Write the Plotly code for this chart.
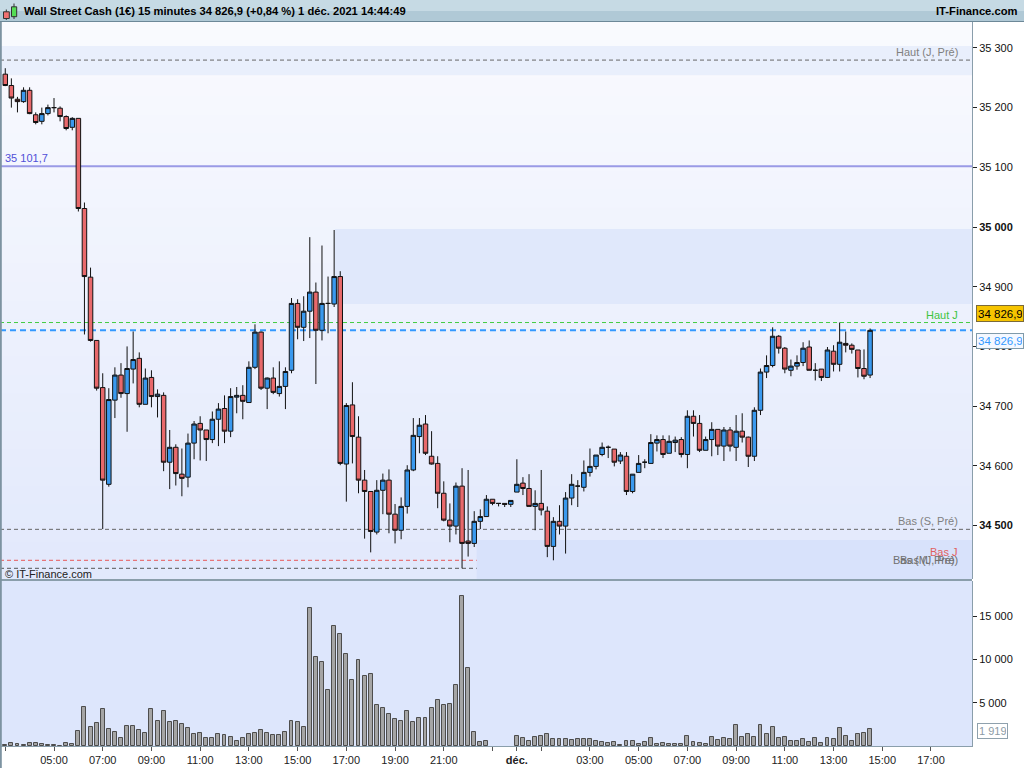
import numpy as np
import pandas as pd
import plotly.graph_objects as go

# Wall Street Cash, 15 min candles, 30 nov 03:00 -> 1 dec 14:30
start = '2021-11-30 03:00'

open_ = [35256, 35237, 35214, 35210, 35229, 35188, 35177, 35190, 35200, 35199,
         35185, 35167, 35182, 35031, 34916, 34810, 34731, 34569, 34710, 34752,
         34721, 34762, 34780, 34703, 34748, 34716, 34718, 34606, 34631, 34586,
         34581, 34638, 34671, 34660, 34644, 34678, 34696, 34658, 34715, 34718,
         34706, 34765, 34824, 34730, 34747, 34721, 34733, 34760, 34872, 34832,
         34859, 34891, 34827, 34872, 34871, 34917, 34603, 34702, 34648, 34576,
         34557, 34489, 34559, 34576, 34519, 34492, 34532, 34593, 34649, 34670,
         34616, 34604, 34554, 34509, 34499, 34566, 34474, 34470, 34507, 34515,
         34544, 34537, 34537, 34535.5, 34556, 34571, 34562, 34532, 34537, 34524,
         34465, 34507, 34499, 34546, 34566, 34564, 34589, 34599, 34619, 34631,
         34628, 34608, 34616, 34557, 34589, 34606, 34604, 34638, 34644, 34621,
         34639, 34644, 34619, 34683, 34671, 34626, 34644, 34661, 34633, 34660,
         34631, 34658, 34648, 34616, 34693, 34757, 34768, 34817, 34797, 34760,
         34767, 34773, 34799, 34760, 34762, 34748, 34792, 34770, 34805, 34802,
         34794, 34763, 34752]
high = [35266, 35249, 35218, 35234, 35234, 35192, 35200, 35205, 35216, 35202,
        35187, 35184, 35182, 35041, 34932, 34810, 34755, 34730, 34765, 34772,
        34800, 34825, 34790, 34763, 34760, 34728, 34723, 34660, 34636, 34629,
        34654, 34675, 34683, 34660, 34691, 34705, 34718, 34730, 34732, 34735,
        34775, 34837, 34825, 34748, 34765, 34775, 34765, 34881, 34879, 34884,
        34983, 34907, 34969, 34917, 34995, 34926, 34705, 34740, 34683, 34593,
        34557, 34576, 34587, 34594, 34536, 34547, 34601, 34680, 34680, 34685,
        34658, 34616, 34574, 34537, 34572, 34596, 34593, 34524, 34527, 34551,
        34544, 34537.5, 34537, 34542, 34611, 34581, 34586, 34559, 34593, 34532,
        34514, 34534, 34556, 34586, 34576, 34609, 34629, 34618, 34639, 34634,
        34628, 34623, 34623, 34586, 34618, 34611, 34653, 34651, 34651, 34651,
        34649, 34648, 34693, 34693, 34685, 34649, 34673, 34661, 34665, 34665,
        34685, 34688, 34649, 34698, 34763, 34785, 34832, 34819, 34799, 34778,
        34785, 34807, 34810, 34772, 34762, 34799, 34802, 34840, 34825, 34805,
        34794, 34795, 34830]
low = [35236, 35200, 35192, 35208, 35189, 35172, 35172, 35187, 35192, 35177,
       35162, 35162, 35026, 34820, 34808, 34726, 34494, 34565, 34680, 34714,
       34657, 34738, 34698, 34703, 34698, 34681, 34591, 34561, 34567, 34549,
       34564, 34611, 34609, 34608, 34638, 34633, 34638, 34648, 34688, 34678,
       34706, 34762, 34727, 34695, 34720, 34716, 34695, 34755, 34812, 34809,
       34814, 34737, 34810, 34822, 34866, 34601, 34540, 34604, 34554, 34478,
       34455, 34485, 34519, 34487, 34470, 34477, 34520, 34591, 34621, 34618,
       34602, 34529, 34507, 34472, 34485, 34428.3, 34448, 34464, 34494, 34515,
       34534, 34532, 34531, 34531, 34556, 34551, 34532, 34492, 34517, 34447,
       34441.7, 34485, 34453, 34534, 34531, 34557, 34582, 34594, 34616, 34613,
       34599, 34603, 34551, 34554, 34589, 34596, 34604, 34624, 34613, 34621,
       34623, 34614, 34596, 34649, 34623, 34626, 34616, 34618, 34608, 34624,
       34608, 34639, 34598, 34608, 34685, 34747, 34765, 34788, 34755, 34750,
       34761, 34767, 34760, 34743, 34742, 34747, 34758, 34758, 34790, 34788,
       34748, 34745, 34747]
close = [35237, 35216, 35210, 35229, 35190, 35175, 35190, 35200, 35200, 35185,
         35165, 35182, 35031, 34917, 34810, 34730, 34576, 34711, 34752, 34721,
         34763, 34778, 34703, 34747, 34716, 34720, 34606, 34631, 34587, 34579,
         34638, 34670, 34660, 34644, 34678, 34695, 34658, 34716, 34718, 34708,
         34765, 34824, 34730, 34747, 34723, 34733, 34758, 34872, 34832, 34859,
         34891, 34827, 34872, 34872, 34917, 34604, 34701, 34649, 34576, 34557,
         34490, 34559, 34576, 34519, 34492, 34532, 34593, 34651, 34668, 34621,
         34603, 34554, 34509, 34499, 34566, 34470, 34470, 34507, 34515, 34544,
         34537, 34537, 34535.5, 34542, 34569, 34562, 34532, 34537, 34526, 34465,
         34507, 34499, 34546, 34569, 34566, 34589, 34599, 34618, 34631, 34631,
         34606, 34618, 34557, 34586, 34604, 34606, 34639, 34644, 34619, 34641,
         34643, 34619, 34683, 34671, 34626, 34644, 34661, 34633, 34660, 34633,
         34658, 34648, 34616, 34693, 34757, 34768, 34817, 34797, 34762, 34767,
         34773, 34797, 34760, 34760, 34748, 34794, 34770, 34807, 34802, 34795,
         34763, 34750, 34826.9]
volume = [154, 384, 269, 154, 384, 384, 269, 154, 154, 38,
          384, 269, 1766, 4531, 2227, 2688, 4301, 1997, 1651, 960,
          2342, 2342, 1882, 1536, 4301, 2918, 4070, 2803, 2918, 2573,
          2112, 1421, 1536, 960, 960, 1421, 1306, 1075, 614, 960,
          1421, 1536, 1882, 1536, 1306, 1306, 1651, 2918, 2803, 2227,
          15936, 10291, 9715, 6490, 13862, 12941, 10637, 7642, 9946, 8102,
          8333, 4762, 4416, 3725, 3149, 2918, 4070, 2803, 3264, 3264,
          4416, 5338, 4762, 4877, 7066, 17318, 9024, 1651, 499, 614,
          None, None, None, None, 1190, 960, 614, 1075, 1190, 1421,
          845, 845, 845, 730, 845, 845, 845, 614, 499, 384,
          499, 154, 614, 614, 269, 499, 960, 269, 384, 269,
          269, 269, 1190, 499, 384, 269, 1075, 730, 960, 845,
          2458, 1075, 1421, 1075, 2458, 1421, 2227, 960, 1075, 614,
          614, 845, 499, 960, 384, 960, 845, 2112, 1190, 614,
          1421, 1536, 1919]

# key levels drawn across the chart
level_names = ['Haut (J, Pré)', '35 101,7', 'Haut J', 'Bas (S, Pré)', 'Bas J', 'Bas (J, Pré)']
level_values = [35279.6, 35101.7, 34840, 34493.6, 34441.7, 34428.3]
last_price = 34826.9
last_volume = 1919

# shaded zones
zone_top = [35254, 35303]
zone_mid = [34871, 34996.6]
zone_low_top = 34475.7

price_ticks = [34500, 34600, 34700, 34800, 34900, 35000, 35100, 35200, 35300]
price_ticktext = ['<b>34 500</b>', '34 600', '34 700', '34 800', '34 900',
                  '<b>35 000</b>', '35 100', '35 200', '35 300']
vol_ticks = [5000, 10000, 15000]
vol_ticktext = ['5 000', '10 000', '15 000']
x_tickvals = ['2021-11-30 03:00', '2021-11-30 05:00', '2021-11-30 07:00', '2021-11-30 09:00',
              '2021-11-30 11:00', '2021-11-30 13:00', '2021-11-30 15:00', '2021-11-30 17:00',
              '2021-11-30 19:00', '2021-11-30 21:00', '2021-11-30 23:00', '2021-12-01 00:00',
              '2021-12-01 01:00', '2021-12-01 03:00', '2021-12-01 05:00', '2021-12-01 07:00',
              '2021-12-01 09:00', '2021-12-01 11:00', '2021-12-01 13:00', '2021-12-01 15:00',
              '2021-12-01 17:00']
x_ticktext = ['', '05:00', '07:00', '09:00', '11:00', '13:00', '15:00', '17:00', '19:00',
              '21:00', '', '<b>déc.</b>', '', '03:00', '05:00', '07:00', '09:00', '11:00',
              '13:00', '15:00', '17:00']

times = pd.date_range(start, periods=len(open_), freq='15min')

x_range = ['2021-11-30 02:47', '2021-12-01 18:41']
price_range = [34410.4, 35343.4]
vol_range = [0, 19082]

FONT = 'Liberation Sans, Arial, sans-serif'


# pixel -> paper helpers (plot area is 972 x 724 px, top at 22)
def px(x):
    return x / 972


def py(y):
    return (746 - y) / 724


fig = go.Figure()

fig.add_trace(go.Candlestick(
    x=times, open=open_, high=high, low=low, close=close,
    increasing=dict(fillcolor='#3a99ee', line=dict(color='#111111', width=1)),
    decreasing=dict(fillcolor='#e8696b', line=dict(color='#111111', width=1)),
    whiskerwidth=0, showlegend=False, hoverinfo='skip'))

fig.add_trace(go.Bar(
    x=times, y=volume, yaxis='y2', width=580000,
    marker=dict(color='#a5a5a5', line=dict(color='#4d4d4d', width=1)),
    showlegend=False, hoverinfo='skip'))

shapes = []

# price pane background gradient
top = np.array([250, 251, 255])
bot = np.array([226, 233, 252])
n = 30
for k in range(n):
    c = top + (bot - top) * (k + 0.5) / n
    shapes.append(dict(type='rect', xref='x domain', yref='y domain', x0=0, x1=1,
                       y0=max(0, 1 - (k + 1) / n - 0.002), y1=1 - k / n,
                       fillcolor='rgb(%d,%d,%d)' % tuple(c), line_width=0, layer='below'))
# volume pane background
shapes.append(dict(type='rect', xref='x domain', yref='y2 domain', x0=0, x1=1, y0=0, y1=1,
                   fillcolor='#dde6fc', line_width=0, layer='below'))

# zones
shapes.append(dict(type='rect', xref='x domain', yref='y', x0=0, x1=1,
                   y0=zone_top[0], y1=zone_top[1], fillcolor='#e9effc', line_width=0, layer='below'))
shapes.append(dict(type='rect', xref='x', yref='y', x0='2021-11-30 16:32', x1=x_range[1],
                   y0=zone_mid[0], y1=zone_mid[1], fillcolor='#e0e8fb', line_width=0, layer='below'))
shapes.append(dict(type='rect', xref='x', yref='y', x0='2021-11-30 22:21', x1=x_range[1],
                   y0=price_range[0], y1=zone_low_top, fillcolor='#d8e2fb', line_width=0, layer='below'))

# level lines
level_styles = [('#666666', 1, '4px,3px'), ('#9a9ae6', 2, 'solid'), ('#44cc44', 1, '4px,3px'),
                ('#666666', 1, '4px,3px'), ('#e85858', 1, '4px,3px'), ('#555555', 1, '4px,3px')]
for v, (col, w, d) in zip(level_values, level_styles):
    shapes.append(dict(type='line', xref='x domain', yref='y', x0=0, x1=1, y0=v, y1=v,
                       line=dict(color=col, width=w, dash=d), layer='below'))
shapes.append(dict(type='line', xref='x domain', yref='y', x0=0, x1=1, y0=last_price, y1=last_price,
                   line=dict(color='#3399ff', width=2, dash='6px,4px'), layer='below'))

# pane separator, left border
shapes.append(dict(type='line', xref='paper', yref='paper', x0=0, x1=1, y0=py(580), y1=py(580),
                   line=dict(color='#8a9eab', width=2)))
shapes.append(dict(type='line', xref='paper', yref='paper', x0=px(0.8), x1=px(0.8), y0=py(768), y1=1,
                   line=dict(color='#7d93a1', width=2)))

# title bar
shapes.append(dict(type='rect', xref='paper', yref='paper', x0=0, x1=px(1024), y0=py(11), y1=py(0),
                   fillcolor='#c6dae4', line_width=0))
shapes.append(dict(type='rect', xref='paper', yref='paper', x0=0, x1=px(1024), y0=py(21), y1=py(11),
                   fillcolor='#b0c9d6', line_width=0))
shapes.append(dict(type='line', xref='paper', yref='paper', x0=0, x1=px(1024), y0=py(21.5), y1=py(21.5),
                   line=dict(color='#6d8898', width=1)))
# title icon
shapes.append(dict(type='line', xref='paper', yref='paper', x0=px(6.3), x1=px(6.3), y0=py(20), y1=py(9.5),
                   line=dict(color='#333333', width=1)))
shapes.append(dict(type='rect', xref='paper', yref='paper', x0=px(3.5), x1=px(9.3), y0=py(18.5), y1=py(11.8),
                   fillcolor='#f07070', line=dict(color='#333333', width=1)))
shapes.append(dict(type='line', xref='paper', yref='paper', x0=px(14), x1=px(14), y0=py(19), y1=py(3.5),
                   line=dict(color='#333333', width=1)))
shapes.append(dict(type='rect', xref='paper', yref='paper', x0=px(11.5), x1=px(16.7), y0=py(16.7), y1=py(6.8),
                   fillcolor='#55dd55', line=dict(color='#333333', width=1)))

annotations = [
    dict(xref='paper', yref='paper', x=px(22), y=py(11), xanchor='left', yanchor='middle', showarrow=False,
         text='<b>Wall Street Cash (1€) 15 minutes 34 826,9 (+0,84 %) 1 déc. 2021 14:44:49</b>',
         font=dict(family=FONT, size=11.2, color='#000000')),
    dict(xref='paper', yref='paper', x=px(1019), y=py(11), xanchor='right', yanchor='middle', showarrow=False,
         text='<b>IT-Finance.com</b>', font=dict(family=FONT, size=11.2, color='#000000')),
    dict(xref='paper', yref='paper', x=px(3), y=py(574), xanchor='left', yanchor='middle', showarrow=False,
         text='© IT-Finance.com', font=dict(family=FONT, size=11, color='#222222')),
]

label_colors = ['#808080', '#5050d8', '#3ec43e', '#808080', '#e06060', '#707070']
for name, v, col in zip(level_names, level_values, label_colors):
    left = name == '35 101,7'
    annotations.append(dict(xref='x domain', yref='y', x=0.003 if left else 0.988, y=v,
                            xanchor='left' if left else 'right', yanchor='bottom', yshift=0,
                            showarrow=False, text=name, font=dict(family=FONT, size=11, color=col)))
annotations.append(dict(xref='x domain', yref='y', x=0.985, y=level_values[-1], xanchor='right',
                        yanchor='bottom', showarrow=False, text='Bas (M, Pré)',
                        font=dict(family=FONT, size=11, color='#707070')))

# right-side value boxes
price_txt = '{:,.1f}'.format(last_price).replace(',', ' ').replace('.', ',')
annotations.append(dict(xref='paper', yref='paper', x=px(975.5), y=py(313.7), xanchor='left', yanchor='middle',
                        showarrow=False, text=price_txt, width=44, height=13, align='left',
                        bgcolor='#f6c400', bordercolor='#7a6a3a', borderwidth=1, borderpad=1,
                        font=dict(family=FONT, size=11.5, color='#000000')))
annotations.append(dict(xref='paper', yref='paper', x=px(975.5), y=py(340.5), xanchor='left', yanchor='middle',
                        showarrow=False, text=price_txt, width=44, height=12, align='left',
                        bgcolor='#f4f8ff', bordercolor='#7f9aaa', borderwidth=1, borderpad=1,
                        font=dict(family=FONT, size=11.5, color='#3399ff')))
annotations.append(dict(xref='paper', yref='paper', x=px(977), y=py(730.5), xanchor='left', yanchor='middle',
                        showarrow=False, text='{:,}'.format(last_volume).replace(',', ' '),
                        width=27, height=12, align='left',
                        bgcolor='#ffffff', bordercolor='#8fa1ad', borderwidth=1, borderpad=1,
                        font=dict(family=FONT, size=11, color='#8c9ba6')))

fig.update_layout(
    width=1024, height=768, autosize=False,
    margin=dict(l=0, r=52, t=22, b=22),
    paper_bgcolor='#ffffff', plot_bgcolor='rgba(0,0,0,0)',
    font=dict(family=FONT, size=11, color='#222222'),
    showlegend=False, bargap=0,
    # wider candle bodies (about 0.74 of the 15 min step)
    boxgap=0.1, boxgroupgap=0.18,
    xaxis=dict(domain=[0, 1], anchor='y2', range=x_range, type='date',
               tickvals=x_tickvals, ticktext=x_ticktext, ticks='outside', ticklen=4,
               tickcolor='#555555', showgrid=False, zeroline=False, showline=True,
               linecolor='#8a9eab', linewidth=1, rangeslider=dict(visible=False),
               tickfont=dict(family=FONT, size=11, color='#222222')),
    yaxis=dict(domain=[py(579), 1], anchor='x', side='right', range=price_range,
               tickvals=price_ticks, ticktext=price_ticktext, ticks='outside', ticklen=4,
               tickcolor='#222222', showgrid=False, zeroline=False, showline=True,
               linecolor='#8a9eab', linewidth=1,
               tickfont=dict(family=FONT, size=11, color='#111111')),
    yaxis2=dict(domain=[0, py(581)], anchor='x', side='right', range=vol_range,
                tickvals=vol_ticks, ticktext=vol_ticktext, ticks='outside', ticklen=4,
                tickcolor='#222222', showgrid=False, zeroline=False, showline=True,
                linecolor='#8a9eab', linewidth=1,
                tickfont=dict(family=FONT, size=11, color='#111111')),
    shapes=shapes,
    annotations=annotations,
)

# the page has a default body margin; drop it so the chart fills the window like the original
fig.write_html("out.html", config={'displayModeBar': False},
               post_script="document.body.style.margin='0';")
